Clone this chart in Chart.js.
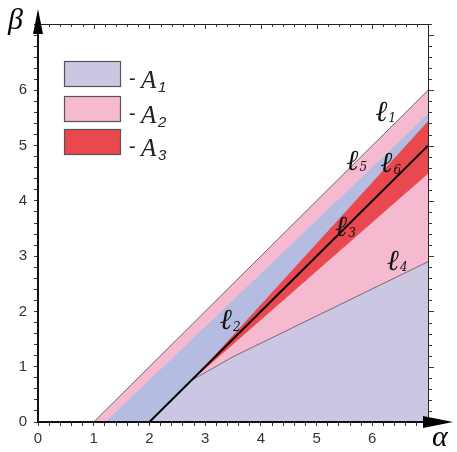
<!DOCTYPE html>
<html><head><meta charset="utf-8">
<script src="https://cdn.jsdelivr.net/npm/chart.js@4.4.0/dist/chart.umd.min.js"></script>
<style>html,body{margin:0;padding:0;background:#fff;}#wrap{width:457px;height:452px;}</style>
</head><body><div id="wrap"><canvas id="c" width="457" height="452"></canvas></div>
<script>
// ---- data (alpha, beta) ----
const alphaLabels = [0, 1, 2, 3, 4, 5, 6];
const betaLabels = [0, 1, 2, 3, 4, 5, 6];
const legendNames = ['1', '2', '3'];           // subscripts of A
const line1 = [{x: 1, y: 0}, {x: 7, y: 6}];        // l1 upper bound
const line5 = [{x: 1.2, y: 0}, {x: 7, y: 5.58}];   // l5
const line3 = [{x: 2, y: 0}, {x: 7, y: 5}];        // l3 black line
const line6 = [{x: 2.75, y: 0.75}, {x: 7, y: 5.45}]; // red top
const line2 = [{x: 2.75, y: 0.75}, {x: 7, y: 4.5}];  // red bottom
const line4 = [{x: 2.75, y: 0.75}, {x: 3.5, y: 1.18}, {x: 7, y: 2.9}]; // l4
const lineLabelNames = ['1', '5', '6', '3', '4', '2'];
const lineLabelAnchors = [[6.16, 5.59], [5.64, 4.70], [6.25, 4.65], [5.44, 3.51], [6.37, 2.89], [3.37, 1.81]];

// ---- region polygons built from the lines ----
const regPinkTop = [line1[0], line1[1], line5[1], line5[0], line1[0]];
const regBlue = [line5[0], line5[1], line6[1], line6[0], line3[0], line5[0]];
const regRed = [line6[0], line6[1], line2[1], line6[0]];
const regPinkLow = [line2[0], line2[1], ...line4.slice().reverse(), line2[0]];
const regLav = [line3[0], ...line4, {x: 7, y: 0}, line3[0]];

const C = {lav: '#cbc7e3', blue: '#b4bce2', pink: '#f5b9d0', red: '#e8484e'};
function poly(data, color) {
  return {data, showLine: true, fill: 'shape', backgroundColor: color, borderColor: color,
    borderWidth: 0.8, pointRadius: 0, tension: 0};
}
function ln(data, color, w) {
  return {data, showLine: true, fill: false, borderColor: color, borderWidth: w, pointRadius: 0, tension: 0};
}
const isInt = v => Math.abs(v - Math.round(v)) < 1e-6;

const overlay = {
  id: 'overlay',
  afterDatasetsDraw(chart) {
    const ctx = chart.ctx, xs = chart.scales.x, ys = chart.scales.y;
    ctx.save();
    ctx.fillStyle = '#111';
    lineLabelNames.forEach((n, i) => {
      const px = xs.getPixelForValue(lineLabelAnchors[i][0]);
      const py = ys.getPixelForValue(lineLabelAnchors[i][1]);
      ctx.font = 'italic 29px "DejaVu Serif"';
      ctx.textAlign = 'center'; ctx.textBaseline = 'middle';
      ctx.fillText('\u2113', px, py);
      ctx.font = 'italic 12px "DejaVu Serif"';
      ctx.fillText(n, px + 11, py + 6);
    });
    ctx.restore();
  },
  afterDraw(chart) {
    const ctx = chart.ctx, xs = chart.scales.x, ys = chart.scales.y, a = chart.chartArea;
    ctx.save();
    ctx.strokeStyle = '#222'; ctx.lineWidth = 1;
    ctx.beginPath();
    ctx.moveTo(a.left, a.top + 0.5); ctx.lineTo(a.right + 0.5, a.top + 0.5);
    ctx.lineTo(a.right + 0.5, a.bottom);
    ctx.stroke();
    ctx.lineWidth = 0.9;
    for (let v = 0.2; v <= 7.001; v += 0.2) {
      const px = Math.round(xs.getPixelForValue(v)) + 0.5;
      ctx.beginPath(); ctx.moveTo(px, a.top); ctx.lineTo(px, a.top + (isInt(v) ? 5 : 3)); ctx.stroke();
    }
    for (let v = 0.2; v <= 7.201; v += 0.2) {
      const py = Math.round(ys.getPixelForValue(v)) + 0.5;
      ctx.beginPath(); ctx.moveTo(a.right, py); ctx.lineTo(a.right + (isInt(v) ? 6 : 4), py); ctx.stroke();
    }
    ctx.strokeStyle = '#111'; ctx.lineWidth = 2;
    ctx.beginPath();
    ctx.moveTo(a.left, a.bottom); ctx.lineTo(a.left, 20);
    ctx.moveTo(a.left, a.bottom); ctx.lineTo(440, a.bottom);
    ctx.stroke();
    ctx.fillStyle = '#000';
    ctx.beginPath(); ctx.moveTo(a.left, 9); ctx.lineTo(a.left - 5, 34); ctx.lineTo(a.left + 5, 34); ctx.closePath(); ctx.fill();
    ctx.beginPath(); ctx.moveTo(453, a.bottom); ctx.lineTo(423, a.bottom - 6); ctx.lineTo(423, a.bottom + 6); ctx.closePath(); ctx.fill();
    ctx.font = 'italic 30px "Liberation Serif"';
    ctx.textAlign = 'left'; ctx.textBaseline = 'alphabetic';
    ctx.fillText('\u03b2', 8, 29);
    ctx.fillText('\u03b1', 432, 446);
    const cols = [C.lav, C.pink, C.red];
    const tops = [61, 96, 129];
    legendNames.forEach((n, i) => {
      ctx.fillStyle = cols[i];
      ctx.fillRect(64, tops[i], 57, 26);
      ctx.strokeStyle = '#555'; ctx.lineWidth = 1.2;
      ctx.strokeRect(64.5, tops[i] + 0.5, 56, 25);
      ctx.fillStyle = '#222';
      ctx.font = '20px "Liberation Sans"';
      ctx.fillText('-', 129, tops[i] + 24);
      ctx.font = 'italic 25px "Liberation Serif"';
      ctx.fillText('A', 141, tops[i] + 27);
      ctx.font = 'italic 15px "Liberation Sans"';
      ctx.fillText(n, 158, tops[i] + 31);
    });
    ctx.restore();
  }
};

new Chart(document.getElementById('c'), {
  type: 'scatter',
  data: {datasets: [
    ln(line3, '#000', 2),
    ln(line1, '#555', 0.8),
    ln(line4, '#555', 0.8),
    poly(regPinkTop, C.pink),
    poly(regBlue, C.blue),
    poly(regRed, C.red),
    poly(regPinkLow, C.pink),
    poly(regLav, C.lav)
  ]},
  options: {
    responsive: false, animation: false, devicePixelRatio: 1,
    layout: {padding: {top: 24, right: 29, left: 0, bottom: 0}},
    plugins: {legend: {display: false}, tooltip: {enabled: false}},
    scales: {
      x: {type: 'linear', min: 0, max: 7, position: 'bottom',
        afterFit(s) { s.height = 30; },
        ticks: {stepSize: 0.2, autoSkip: false, maxRotation: 0, padding: 4,
          color: '#333', font: {family: 'Liberation Sans', size: 15},
          callback: v => (isInt(v) && alphaLabels.includes(Math.round(v))) ? String(Math.round(v)) : ''},
        grid: {drawOnChartArea: false, drawTicks: true, tickLength: 4, color: '#333'},
        border: {display: true, color: '#111', width: 2}},
      y: {type: 'linear', min: 0, max: 7.2, position: 'left',
        afterFit(s) { s.width = 38; },
        ticks: {stepSize: 0.2, autoSkip: false, padding: 7,
          color: '#333', font: {family: 'Liberation Sans', size: 15},
          callback: v => (isInt(v) && betaLabels.includes(Math.round(v))) ? String(Math.round(v)) : ''},
        grid: {drawOnChartArea: false, drawTicks: true, tickLength: 4, color: '#333'},
        border: {display: true, color: '#111', width: 2}}
    }
  },
  plugins: [overlay]
});
</script></body></html>
